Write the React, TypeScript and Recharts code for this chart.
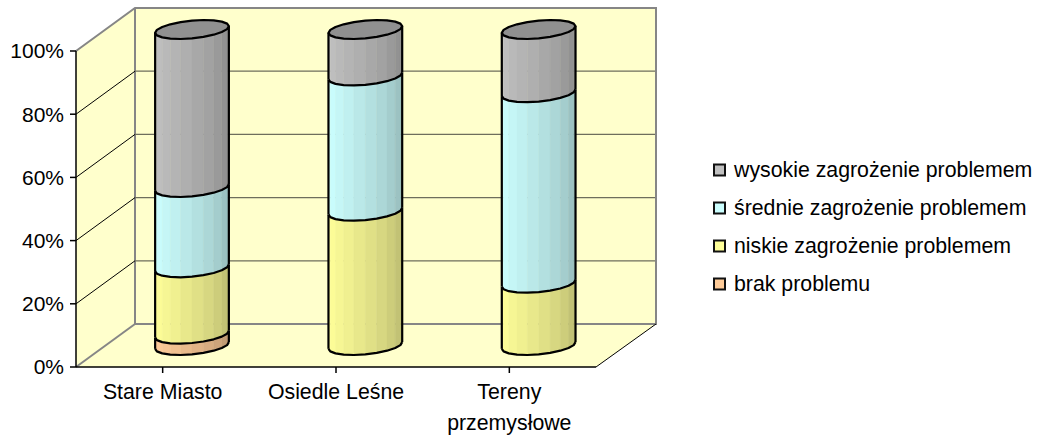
import { BarChart, Bar, XAxis, YAxis, CartesianGrid } from 'recharts';

const categories = ['Stare Miasto', 'Osiedle Leśne', 'Tereny przemysłowe'];
const categoryLines = [['Stare Miasto'], ['Osiedle Leśne'], ['Tereny', 'przemysłowe']];
const brakProblemu = [3.6, 0, 0];
const niskie = [21, 42.5, 19.7];
const srednie = [25.4, 42.8, 60.3];
const wysokie = [50, 14.7, 20];
const yTicks = [0, 20, 40, 60, 80, 100];

const legendItems = [
  { name: 'wysokie zagrożenie problemem', color: '#C0C0C0' },
  { name: 'średnie zagrożenie problemem', color: '#CCFFFF' },
  { name: 'niskie zagrożenie problemem', color: '#FFFF99' },
  { name: 'brak problemu', color: '#FFCC99' },
];

const data = categories.map((name, i) => ({
  name,
  brak: brakProblemu[i],
  niskie: niskie[i],
  srednie: srednie[i],
  wysokie: wysokie[i],
}));

// plot area of the front plane, and how far the back wall is pushed
const LEFT = 76;
const TOP = 51;
const RIGHT = 596;
const BOTTOM = 367;
const DX = 59;
const DY = -43;
const FONT = '"Liberation Sans", Arial, sans-serif';
const FONT_SIZE = 21.3;
const WALL = '#FFFFCC';

function shade(hex: string, f: number) {
  const n = parseInt(hex.slice(1), 16);
  const c = [(n >> 16) & 255, (n >> 8) & 255, n & 255].map((v) => Math.round(v * f));
  return `rgb(${c[0]},${c[1]},${c[2]})`;
}

// ring of the cylinder: a circle lying in the sheared floor plane
function ringPoint(cx: number, cy: number, halfWidth: number, u: number) {
  const b = 13;
  const c = 9.5;
  const phi = Math.atan2(b, halfWidth);
  const r = Math.hypot(halfWidth, b);
  return [cx + r * Math.cos(u), cy - c * Math.sin(phi + u)];
}

const FACES = 10;

function frontArc(cx: number, cy: number, hw: number) {
  const pts: number[][] = [];
  for (let k = 0; k <= FACES; k++) pts.push(ringPoint(cx, cy, hw, Math.PI + (k * Math.PI) / FACES));
  return pts;
}

function toPoints(pts: number[][]) {
  return pts.map((p) => `${p[0].toFixed(1)},${p[1].toFixed(1)}`).join(' ');
}

// eslint-disable-next-line @typescript-eslint/no-explicit-any
function Cylinder({ x, y, width, height, fill, capped }: any) {
  if (!height || height <= 0) return null;
  const cx = x + width / 2 + DX / 2;
  const hw = width / 2;
  const top = y + DY / 2;
  const bottom = y + height + DY / 2;
  const low = frontArc(cx, bottom, hw);
  const high = frontArc(cx, top, hw);
  const strips = [];
  for (let k = 0; k < FACES; k++) {
    const color = shade(fill, 1 - 0.28 * Math.pow(k / (FACES - 1), 1.4));
    strips.push(
      <polygon
        key={k}
        points={toPoints([low[k], low[k + 1], high[k + 1], high[k]])}
        fill={color}
        stroke={color}
        strokeWidth={0.5}
      />,
    );
  }
  const ring = [...high];
  for (let k = 1; k < FACES; k++) ring.push(ringPoint(cx, top, hw, (k * Math.PI) / FACES));
  return (
    <g>
      {strips}
      <polyline points={toPoints(low)} fill="none" stroke="#000" strokeWidth={2.2} strokeLinejoin="round" />
      <line x1={low[0][0]} y1={low[0][1]} x2={high[0][0]} y2={high[0][1]} stroke="#000" strokeWidth={2.2} />
      <line
        x1={low[FACES][0]}
        y1={low[FACES][1]}
        x2={high[FACES][0]}
        y2={high[FACES][1]}
        stroke="#000"
        strokeWidth={2.2}
      />
      {capped && (
        <polygon points={toPoints(ring)} fill={shade(fill, 0.75)} stroke="#000" strokeWidth={2.2} strokeLinejoin="round" />
      )}
    </g>
  );
}

function Walls() {
  const backL = LEFT + DX;
  const backR = RIGHT + DX + 1;
  const backT = TOP + DY;
  const backB = BOTTOM + DY;
  return (
    <g>
      <polygon points={`${LEFT},${TOP} ${backL},${backT} ${backL},${backB} ${LEFT},${BOTTOM}`} fill={WALL} />
      <polygon points={`${backL},${backT} ${backR},${backT} ${backR},${backB} ${backL},${backB}`} fill={WALL} />
      <polygon points={`${LEFT},${BOTTOM} ${backL},${backB} ${backR},${backB} ${RIGHT},${BOTTOM}`} fill={WALL} />
      <polyline
        points={`${LEFT},${TOP} ${backL},${backT} ${backR},${backT} ${backR},${backB} ${backL},${backB} ${backL},${backT}`}
        fill="none"
        stroke="#868686"
        strokeWidth={2}
      />
      <line x1={LEFT} y1={BOTTOM} x2={backL} y2={backB} stroke="#868686" strokeWidth={2} />
      <line x1={RIGHT} y1={BOTTOM} x2={backR} y2={backB} stroke="#000" strokeWidth={1} />
    </g>
  );
}

// eslint-disable-next-line @typescript-eslint/no-explicit-any
function gridLine(props: any) {
  const { x1, x2, y1, index } = props;
  if (y1 <= TOP + 1 || y1 >= BOTTOM - 1) return <g key={index} />;
  return (
    <g key={index}>
      <line x1={x1} y1={y1} x2={x1 + DX} y2={y1 + DY} stroke="#000" strokeWidth={1} />
      <line x1={x1 + DX} y1={y1 + DY} x2={x2 + DX} y2={y1 + DY} stroke="#6e6e5c" strokeWidth={1.2} />
    </g>
  );
}

// eslint-disable-next-line @typescript-eslint/no-explicit-any
function CategoryTick({ x, y, payload, index }: any) {
  const lines = categoryLines[payload?.index ?? index] ?? [payload.value];
  return (
    <g>
      {lines.map((line: string, i: number) => (
        <text key={line} x={x} y={y + 24 + i * 31} textAnchor="middle" fill="#000" fontSize={FONT_SIZE} fontFamily={FONT}>
          {line}
        </text>
      ))}
    </g>
  );
}

function LegendBox() {
  return (
    <g>
      {legendItems.map((item, i) => {
        const rowY = 170 + i * 38;
        return (
          <g key={item.name}>
            <rect x={714} y={rowY - 5.5} width={11} height={11} fill={item.color} stroke="#111" strokeWidth={2} />
            <text x={734} y={rowY + 7} fill="#000" fontSize={FONT_SIZE} fontFamily={FONT}>
              {item.name}
            </text>
          </g>
        );
      })}
    </g>
  );
}

export default function App() {
  return (
    <div style={{ position: 'absolute', left: 0, top: 0, background: '#fff' }}>
      <BarChart
        width={1048}
        height={436}
        data={data}
        margin={{ top: TOP, right: 1048 - RIGHT, left: 0, bottom: 0 }}
        barSize={69}
      >
        <Walls />
        <CartesianGrid horizontal={gridLine} vertical={false} zIndex={0} />
        <XAxis
          dataKey="name"
          height={436 - BOTTOM}
          interval={0}
          tick={<CategoryTick />}
          axisLine={{ stroke: '#000', strokeWidth: 1.5 }}
          tickLine={{ stroke: '#000', strokeWidth: 1.5 }}
          tickSize={6}
        />
        <YAxis
          width={LEFT}
          domain={[0, 100]}
          ticks={yTicks}
          tickFormatter={(v: number) => `${v}%`}
          tick={{ fill: '#000', fontSize: 21, fontFamily: FONT }}
          axisLine={{ stroke: '#000', strokeWidth: 1.5 }}
          tickLine={{ stroke: '#000', strokeWidth: 1.5 }}
          tickSize={6}
          tickMargin={6}
        />
        <Bar dataKey="brak" stackId="a" fill="#FFCC99" isAnimationActive={false} shape={<Cylinder />} />
        <Bar dataKey="niskie" stackId="a" fill="#FFFF99" isAnimationActive={false} shape={<Cylinder />} />
        <Bar dataKey="srednie" stackId="a" fill="#CCFFFF" isAnimationActive={false} shape={<Cylinder />} />
        <Bar dataKey="wysokie" stackId="a" fill="#C0C0C0" isAnimationActive={false} shape={<Cylinder capped />} />
        <LegendBox />
      </BarChart>
    </div>
  );
}
